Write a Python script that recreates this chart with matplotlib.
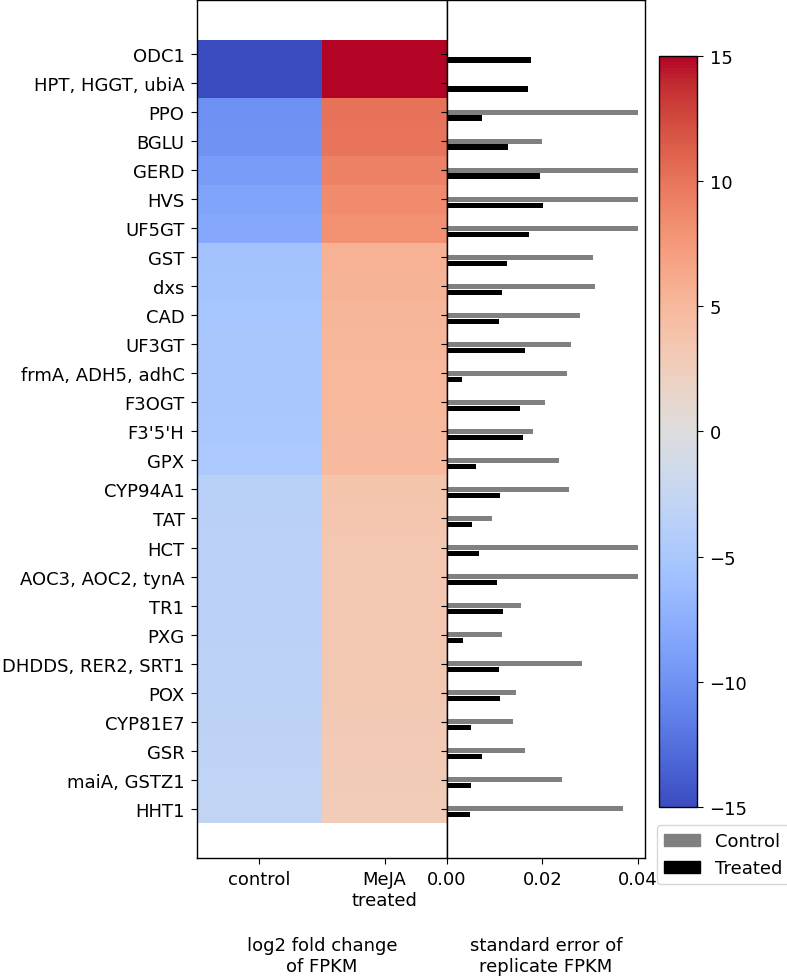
import numpy as np
import matplotlib
matplotlib.use("Agg")
import matplotlib.pyplot as plt
from matplotlib.patches import Patch

plt.rcParams['font.size'] = 13
plt.rcParams['xtick.major.size'] = 4.5
plt.rcParams['ytick.major.size'] = 4.5
plt.rcParams['xtick.major.pad'] = 4.5
plt.rcParams['ytick.major.pad'] = 4.5
plt.rcParams['axes.linewidth'] = 1.0

# Genes (top to bottom)
genes = ["ODC1", "HPT, HGGT, ubiA", "PPO", "BGLU", "GERD", "HVS", "UF5GT",
         "GST", "dxs", "CAD", "UF3GT", "frmA, ADH5, adhC", "F3OGT", "F3'5'H",
         "GPX", "CYP94A1", "TAT", "HCT", "AOC3, AOC2, tynA", "TR1", "PXG",
         "DHDDS, RER2, SRT1", "POX", "CYP81E7", "GSR", "maiA, GSTZ1", "HHT1"]

# log2 fold change of FPKM
lfc_treated = [15.0, 15.0, 10.1, 10.0, 9.2, 8.5, 8.1, 5.6, 5.5, 5.2, 5.1, 5.0,
               5.0, 4.9, 4.8, 3.7, 3.6, 3.5, 3.5, 3.4, 3.4, 3.3, 3.3, 3.2,
               3.1, 3.0, 2.9]
lfc_control = [-v for v in lfc_treated]
heat_cols = ["control", "MeJA\ntreated"]

# standard error of replicate FPKM
se_control = [0.0, 0.0, 0.04, 0.0200, 0.04, 0.04, 0.04, 0.0306, 0.0311,
              0.0279, 0.0260, 0.0252, 0.0206, 0.0181, 0.0235, 0.0255, 0.0095,
              0.04, 0.04, 0.0155, 0.0115, 0.0283, 0.0145, 0.0138, 0.0164,
              0.0242, 0.0369]
se_treated = [0.0175, 0.0169, 0.0073, 0.0128, 0.0195, 0.0202, 0.0172, 0.0126,
              0.0115, 0.0109, 0.0164, 0.0031, 0.0153, 0.0160, 0.0061, 0.0111,
              0.0052, 0.0067, 0.0105, 0.0118, 0.0033, 0.0108, 0.0110, 0.0050,
              0.0073, 0.0050, 0.0048]

n = len(genes)
y = np.arange(n)
data = np.column_stack([lfc_control, lfc_treated])

fig = plt.figure(figsize=(7.87, 9.79), dpi=100)
ax_h = fig.add_axes([0.2503, 0.1226, 0.3177, 0.8764])
ax_b = fig.add_axes([0.5680, 0.1226, 0.2516, 0.8764], sharey=ax_h)
cax = fig.add_axes([0.8374, 0.1747, 0.0483, 0.7671])

# heatmap
mesh = ax_h.pcolormesh([0, 1, 2], np.arange(n + 1) - 0.5, data,
                       cmap='coolwarm', vmin=-15, vmax=15)
ax_h.set_xlim(0, 2)
ax_h.set_xticks([0.5, 1.5])
ax_h.set_xticklabels(heat_cols)
ax_h.set_yticks(y)
ax_h.set_yticklabels(genes)
ax_h.set_ylim(27.7, -1.87)
ax_h.set_xlabel("log2 fold change\nof FPKM")
ax_h.xaxis.set_label_coords(0.5, -0.091)

# bars
bh = 0.18
ax_b.barh(y, se_control, height=bh, color='grey', label='Control')
ax_b.barh(y + 0.2, se_treated, height=bh, color='black', label='Treated')
ax_b.set_xlim(0, 0.0415)
ax_b.set_xticks([0.0, 0.02, 0.04])
ax_b.set_xticklabels(["0.00", "0.02", "0.04"])
ax_b.tick_params(axis='y', labelleft=False)
ax_b.set_xlabel("standard error of\nreplicate FPKM")
ax_b.xaxis.set_label_coords(0.5, -0.091)

# colorbar
cb = fig.colorbar(mesh, cax=cax, ticks=[-15, -10, -5, 0, 5, 10, 15])

handles = [Patch(color='grey', label='Control'),
           Patch(color='black', label='Treated')]
fig.legend(handles=handles, loc='upper left', borderaxespad=0,
           bbox_to_anchor=(657 / 787, 1 - 826 / 979))

fig.savefig("out.png", dpi=100)
